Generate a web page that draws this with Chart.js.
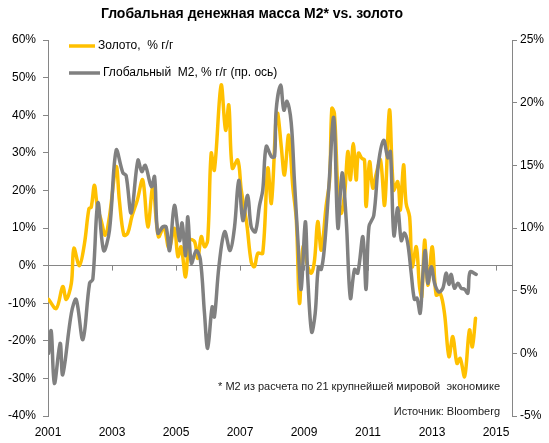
<!DOCTYPE html>
<html>
<head>
<meta charset="utf-8">
<script src="https://cdn.jsdelivr.net/npm/chart.js@4/dist/chart.umd.min.js"></script>
<style>
  html, body { margin: 0; padding: 0; background: #fff; }
  #wrap { width: 549px; height: 443px; position: relative; }
</style>
</head>
<body>
<div id="wrap"><canvas id="chart"></canvas></div>
<script>
const titleText = 'Глобальная денежная масса M2* vs. золото';
const goldLabel = 'Золото,  % г/г';
const m2Label = 'Глобальный  М2, % г/г (пр. ось)';
const noteText = '* M2 из расчета по 21 крупнейшей мировой  экономике';
const sourceText = 'Источник: Bloomberg';

const xTickYears = [2001, 2003, 2005, 2007, 2009, 2011, 2013, 2015];

// золото, % г/г (левая ось)
const goldTime = [
  2001.02, 2001.26, 2001.46, 2001.57, 2001.73, 2001.81, 2001.98, 2002.14, 2002.28, 2002.35,
  2002.45, 2002.54, 2002.66, 2002.79, 2002.92, 2003.13, 2003.23, 2003.37, 2003.49, 2003.62,
  2003.79, 2003.96, 2004.12, 2004.28, 2004.45, 2004.62, 2004.78, 2004.95, 2005.06, 2005.16,
  2005.30, 2005.42, 2005.58, 2005.68, 2005.79, 2005.89, 2005.99, 2006.10, 2006.20, 2006.41,
  2006.55, 2006.65, 2006.76, 2006.93, 2007.04, 2007.21, 2007.35, 2007.45, 2007.56, 2007.71,
  2007.87, 2007.98, 2008.13, 2008.18, 2008.29, 2008.39, 2008.52, 2008.65, 2008.76, 2008.86,
  2008.97, 2009.12, 2009.23, 2009.33, 2009.43, 2009.54, 2009.69, 2009.80, 2009.87, 2009.95,
  2010.06, 2010.16, 2010.27, 2010.37, 2010.45, 2010.54, 2010.63, 2010.70, 2010.81, 2010.89,
  2010.94, 2011.05, 2011.15, 2011.26, 2011.39, 2011.52, 2011.67, 2011.80, 2011.93, 2012.01,
  2012.11, 2012.19, 2012.30, 2012.38, 2012.51, 2012.61, 2012.68, 2012.77, 2012.87, 2013.01,
  2013.13, 2013.26, 2013.39, 2013.53, 2013.65, 2013.78, 2013.88, 2014.02, 2014.17, 2014.26,
  2014.36
];
const goldValues = [
  -9.0, -11.4, -5.6, -9.0, -4.7, 4.6, 0.0, 5.9, 15.2, 15.5,
  21.4, 15.7, 12.1, 8.1, 13.0, 26.3, 17.4, 8.1, 8.6, 13.0,
  17.4, 22.8, 10.3, 21.0, 7.7, 10.2, 4.6, 9.9, 2.4, 5.0,
  -3.0, 6.8, 6.4, 1.9, 7.7, 5.0, 6.8, 29.9, 25.4, 48.0,
  36.0, 42.7, 25.9, 28.1, 20.1, 11.2, 1.0, -0.3, 3.3, 3.3,
  25.9, 16.6, 39.6, 40.5, 31.6, 24.1, 34.7, 21.0, 12.1, -10.0,
  5.0, -0.3, -2.0, 1.5, 11.7, 4.1, 15.7, 22.8, 41.8, 40.5,
  20.1, 13.9, 19.2, 30.3, 22.8, 32.5, 22.8, 29.9, 28.5, 28.1,
  15.7, 27.6, 20.6, 24.5, 28.1, 16.1, 41.4, 20.1, 22.3, 14.8,
  26.8, 16.6, 13.0, -0.3, 5.0, -5.6, -8.3, 6.8, -5.2, 5.0,
  -7.8, -7.4, -12.7, -24.2, -18.9, -26.0, -24.7, -29.5, -17.1, -21.6,
  -14.0
];

// глобальный M2, % г/г (правая ось)
const m2Time = [
  2001.02, 2001.10, 2001.20, 2001.38, 2001.46, 2001.73, 2001.88, 2002.09, 2002.30, 2002.40,
  2002.56, 2002.74, 2002.92, 2003.13, 2003.34, 2003.44, 2003.60, 2003.81, 2003.93, 2004.04,
  2004.23, 2004.33, 2004.43, 2004.59, 2004.69, 2004.80, 2004.95, 2005.11, 2005.19, 2005.30,
  2005.37, 2005.48, 2005.63, 2005.76, 2005.89, 2005.99, 2006.13, 2006.20, 2006.34, 2006.52,
  2006.69, 2006.83, 2006.96, 2007.09, 2007.24, 2007.35, 2007.48, 2007.61, 2007.71, 2007.82,
  2007.98, 2008.08, 2008.13, 2008.27, 2008.37, 2008.47, 2008.60, 2008.70, 2008.81, 2008.91,
  2009.04, 2009.12, 2009.24, 2009.35, 2009.45, 2009.54, 2009.64, 2009.77, 2009.93, 2010.06,
  2010.19, 2010.32, 2010.45, 2010.58, 2010.68, 2010.84, 2010.94, 2011.03, 2011.18, 2011.33,
  2011.49, 2011.62, 2011.70, 2011.81, 2011.93, 2012.04, 2012.14, 2012.24, 2012.35, 2012.45,
  2012.53, 2012.63, 2012.71, 2012.79, 2012.87, 2012.98, 2013.08, 2013.21, 2013.34, 2013.44,
  2013.53, 2013.60, 2013.70, 2013.81, 2013.91, 2014.02, 2014.12, 2014.19, 2014.38
];
const m2Values = [
  0.0, 1.8, -2.4, 0.8, -1.7, 3.2, 4.3, 1.1, 5.6, 5.9,
  12.0, 8.2, 9.8, 16.2, 14.4, 14.2, 11.2, 15.4, 14.5, 15.0,
  13.3, 14.1, 9.6, 10.1, 10.1, 8.2, 11.8, 9.0, 10.4, 7.8,
  10.9, 7.2, 8.2, 7.5, 3.2, 0.4, 3.7, 2.9, 6.9, 9.7,
  8.2, 10.1, 13.8, 10.6, 12.6, 10.1, 9.7, 11.8, 13.0, 16.5,
  15.7, 15.7, 19.4, 21.4, 19.4, 20.1, 18.4, 13.8, 9.0, 5.1,
  10.5, 5.9, 1.7, 3.2, 6.9, 6.7, 8.5, 13.0, 18.8, 10.0,
  14.4, 10.6, 4.4, 6.7, 6.4, 9.3, 5.1, 10.1, 11.0, 15.2,
  17.0, 15.6, 16.1, 9.4, 11.6, 9.0, 9.6, 8.8, 6.4, 4.3,
  4.4, 3.2, 6.1, 8.2, 5.6, 6.9, 5.6, 4.9, 5.2, 6.4,
  5.5, 6.3, 5.2, 5.6, 5.2, 5.1, 4.8, 6.5, 6.3
];

const goldColor = '#FFC000';
const m2Color = '#808080';
const axisColor = '#868686';
const fontFamily = '"Liberation Sans", Arial, sans-serif';

const toPoints = (xs, ys) => xs.map((x, i) => ({x: x, y: ys[i]}));

// подписи, легенда и риски на нулевой линии
const decorPlugin = {
  id: 'decor',
  beforeDatasetsDraw(chart) {
    let ctx = chart.ctx;
    let x = chart.scales.x;
    let y0 = chart.scales.y.getPixelForValue(0);
    ctx.save();
    ctx.strokeStyle = axisColor;
    ctx.lineWidth = 1;
    ctx.beginPath();
    xTickYears.forEach(v => {
      let px = Math.round(x.getPixelForValue(v)) + 0.5;
      ctx.moveTo(px, y0);
      ctx.lineTo(px, y0 + 5);
    });
    ctx.stroke();
    ctx.restore();
  },
  afterDraw(chart) {
    let ctx = chart.ctx;
    let area = chart.chartArea;
    ctx.save();
    ctx.fillStyle = '#000';
    ctx.textBaseline = 'middle';
    ctx.textAlign = 'center';
    ctx.font = 'bold 14px ' + fontFamily;
    ctx.fillText(titleText, 252, 14);

    // легенда
    let items = [
      {label: goldLabel, color: goldColor, x0: 69, x1: 95, y: 46},
      {label: m2Label, color: m2Color, x0: 69, x1: 100, y: 73}
    ];
    ctx.textAlign = 'left';
    ctx.font = '12px ' + fontFamily;
    items.forEach(it => {
      ctx.strokeStyle = it.color;
      ctx.lineWidth = 3.5;
      ctx.beginPath();
      ctx.moveTo(it.x0, it.y);
      ctx.lineTo(it.x1, it.y);
      ctx.stroke();
      ctx.fillText(it.label, it.x1 + 3, it.y);
    });

    ctx.textAlign = 'right';
    ctx.font = '11px ' + fontFamily;
    ctx.fillStyle = '#1a1a1a';
    ctx.fillText(noteText, area.right - 12, 387);
    ctx.fillText(sourceText, area.right - 12, 412);
    ctx.restore();
  }
};

let chart = new Chart(document.getElementById('chart'), {
  type: 'line',
  data: {
    datasets: [{
      label: goldLabel,
      data: toPoints(goldTime, goldValues),
      borderColor: goldColor,
      borderWidth: 3.5,
      yAxisID: 'y',
      order: 2
    }, {
      label: m2Label,
      data: toPoints(m2Time, m2Values),
      borderColor: m2Color,
      borderWidth: 3.5,
      yAxisID: 'y1',
      order: 1
    }]
  },
  options: {
    responsive: true,
    maintainAspectRatio: false,
    animation: false,
    parsing: false,
    elements: {
      point: {radius: 0},
      line: {tension: 0.35, fill: false, borderCapStyle: 'round', borderJoinStyle: 'round'}
    },
    layout: {padding: {top: 40, left: 0, right: 0, bottom: 0}},
    plugins: {
      legend: {display: false},
      title: {display: false},
      tooltip: {enabled: false}
    },
    scales: {
      x: {
        type: 'linear',
        min: 2001,
        max: 2015.5,
        afterBuildTicks: scale => { scale.ticks = xTickYears.map(v => ({value: v})); },
        afterFit: scale => { scale.height = 27; },
        grid: {display: false, drawTicks: false},
        border: {display: false},
        ticks: {
          padding: 9,
          autoSkip: false,
          maxRotation: 0,
          color: '#000',
          font: {family: fontFamily, size: 12},
          callback: v => String(v)
        }
      },
      y: {
        position: 'left',
        min: -40,
        max: 60,
        afterFit: scale => { scale.width = 48; },
        border: {display: true, color: axisColor},
        grid: {
          color: c => c.tick && c.tick.value === 0 ? axisColor : 'rgba(0,0,0,0)',
          tickColor: axisColor,
          tickLength: 5
        },
        ticks: {
          stepSize: 10,
          padding: 7,
          color: '#000',
          font: {family: fontFamily, size: 12},
          callback: v => v + '%'
        }
      },
      y1: {
        position: 'right',
        min: -5,
        max: 25,
        afterFit: scale => { scale.width = 37; },
        border: {display: true, color: axisColor},
        grid: {drawOnChartArea: false, color: axisColor, tickLength: 5},
        ticks: {
          stepSize: 5,
          padding: 3,
          color: '#000',
          font: {family: fontFamily, size: 12},
          callback: v => v + '%'
        }
      }
    }
  },
  plugins: [decorPlugin]
});
</script>
</body>
</html>
